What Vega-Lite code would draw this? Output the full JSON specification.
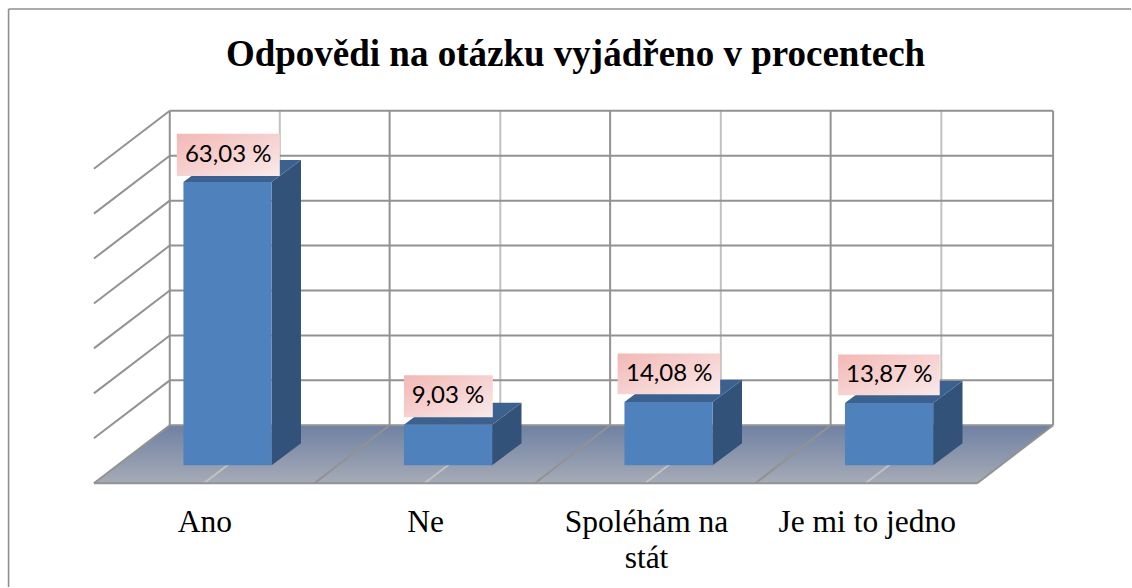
{
"$schema":"https://vega.github.io/schema/vega-lite/v6.json",
"width":1132,"height":588,"padding":0,
"autosize":{"type":"fit","contains":"padding"},
"background":"white",
"config":{"view":{"stroke":null}},
"datasets":{
"frame":[{"x":-0.387,"x2":4.7032,"y":101.56,"y2":101.56},{"x":-0.387,"x2":-0.387,"y":101.56,"y2":-27.11}],
"floor":[{"u":0,"top":-4,"bottom":-4},{"u":0.344,"top":8.89,"bottom":-4},{"u":4.006,"top":8.89,"bottom":-4},{"u":4.35,"top":8.89,"bottom":8.89}],
"wall":[
{"x":0.344,"x2":4.35,"y":78.89,"y2":78.89},{"x":0.344,"x2":4.35,"y":68.89,"y2":68.89},{"x":0.344,"x2":4.35,"y":58.89,"y2":58.89},{"x":0.344,"x2":4.35,"y":48.89,"y2":48.89},{"x":0.344,"x2":4.35,"y":38.89,"y2":38.89},{"x":0.344,"x2":4.35,"y":28.89,"y2":28.89},{"x":0.344,"x2":4.35,"y":18.89,"y2":18.89},{"x":0.344,"x2":4.35,"y":8.89,"y2":8.89},
{"x":0.344,"x2":0,"y":78.89,"y2":66},{"x":0.344,"x2":0,"y":68.89,"y2":56},{"x":0.344,"x2":0,"y":58.89,"y2":46},{"x":0.344,"x2":0,"y":48.89,"y2":36},{"x":0.344,"x2":0,"y":38.89,"y2":26},{"x":0.344,"x2":0,"y":28.89,"y2":16},{"x":0.344,"x2":0,"y":18.89,"y2":6},{"x":0.344,"x2":0,"y":8.89,"y2":-4},
{"x":0.344,"x2":0.344,"y":78.89,"y2":8.89},{"x":1.341,"x2":1.341,"y":78.89,"y2":8.89},{"x":2.341,"x2":2.341,"y":78.89,"y2":8.89},{"x":3.341,"x2":3.341,"y":78.89,"y2":8.89},{"x":4.35,"x2":4.35,"y":78.89,"y2":8.89},
{"x":0,"x2":4.006,"y":-4,"y2":-4},{"x":4.35,"x2":4.006,"y":8.89,"y2":-4},
{"x":1.341,"x2":1,"y":8.89,"y2":-4},{"x":2.341,"x2":2,"y":8.89,"y2":-4},{"x":3.341,"x2":3,"y":8.89,"y2":-4}
],
"minor":[
{"x":0.843,"x2":0.843,"y":78.89,"y2":8.89},{"x":1.843,"x2":1.843,"y":78.89,"y2":8.89},{"x":2.843,"x2":2.843,"y":78.89,"y2":8.89},{"x":3.843,"x2":3.843,"y":78.89,"y2":8.89},
{"x":0.843,"x2":0.499,"y":8.89,"y2":-4},{"x":1.843,"x2":1.499,"y":8.89,"y2":-4},{"x":2.843,"x2":2.499,"y":8.89,"y2":-4},{"x":3.843,"x2":3.499,"y":8.89,"y2":-4}
],
"bars":[
{"category":"Ano","value":63.03,"left":0.406,"right":0.806,"base":0},
{"category":"Ne","value":9.03,"left":1.406,"right":1.806,"base":0},
{"category":"Spoléhám na stát","value":14.08,"left":2.406,"right":2.806,"base":0},
{"category":"Je mi to jedno","value":13.87,"left":3.406,"right":3.806,"base":0}
],
"side":[
{"category":"Ano","u":0.806,"top":63.03,"bottom":0},{"category":"Ano","u":0.939,"top":67.92,"bottom":4.89},
{"category":"Ne","u":1.806,"top":9.03,"bottom":0},{"category":"Ne","u":1.939,"top":13.92,"bottom":4.89},
{"category":"Spoléhám na stát","u":2.806,"top":14.08,"bottom":0},{"category":"Spoléhám na stát","u":2.939,"top":18.97,"bottom":4.89},
{"category":"Je mi to jedno","u":3.806,"top":13.87,"bottom":0},{"category":"Je mi to jedno","u":3.939,"top":18.76,"bottom":4.89}
],
"topface":[
{"category":"Ano","u":0.406,"top":63.03,"bottom":63.03},{"category":"Ano","u":0.539,"top":67.92,"bottom":63.03},{"category":"Ano","u":0.806,"top":67.92,"bottom":63.03},{"category":"Ano","u":0.939,"top":67.92,"bottom":67.92},
{"category":"Ne","u":1.406,"top":9.03,"bottom":9.03},{"category":"Ne","u":1.539,"top":13.92,"bottom":9.03},{"category":"Ne","u":1.806,"top":13.92,"bottom":9.03},{"category":"Ne","u":1.939,"top":13.92,"bottom":13.92},
{"category":"Spoléhám na stát","u":2.406,"top":14.08,"bottom":14.08},{"category":"Spoléhám na stát","u":2.539,"top":18.97,"bottom":14.08},{"category":"Spoléhám na stát","u":2.806,"top":18.97,"bottom":14.08},{"category":"Spoléhám na stát","u":2.939,"top":18.97,"bottom":18.97},
{"category":"Je mi to jedno","u":3.406,"top":13.87,"bottom":13.87},{"category":"Je mi to jedno","u":3.539,"top":18.76,"bottom":13.87},{"category":"Je mi to jedno","u":3.806,"top":18.76,"bottom":13.87},{"category":"Je mi to jedno","u":3.939,"top":18.76,"bottom":18.76}
],
"labels":[
{"label":"63,03 %","u":0.609,"x":0.376,"x2":0.843,"y":73.8,"y2":64.4,"mid":69.1},
{"label":"9,03 %","u":1.606,"x":1.406,"x2":1.809,"y":20,"y2":10.67,"mid":15.3},
{"label":"14,08 %","u":2.609,"x":2.375,"x2":2.84,"y":24.89,"y2":15.78,"mid":20.3},
{"label":"13,87 %","u":3.607,"x":3.375,"x2":3.836,"y":24.67,"y2":15.56,"mid":20.1}
],
"cats":[
{"name":"Ano","u":0.503,"v":-14.9},{"name":"Ne","u":1.504,"v":-14.9},{"name":"Spoléhám na\nstát","u":2.506,"v":-14.9},{"name":"Je mi to jedno","u":3.507,"v":-14.9}
],
"heading":[{"name":"Odpovědi na otázku vyjádřeno v procentech","u":2.184,"v":88.9}]
},
"layer":[
{"data":{"name":"floor"},"mark":{"type":"area","fill":{"gradient":"linear","x1":0,"y1":0,"x2":0,"y2":1,"stops":[{"offset":0,"color":"#6f81a3"},{"offset":1,"color":"#a6abb6"}]}},
 "encoding":{"x":{"field":"u","type":"quantitative","axis":null,"scale":{"domain":[-0.4259,4.7032],"nice":false,"zero":false}},"y":{"field":"top","type":"quantitative","axis":null,"scale":{"domain":[-27.111,103.556],"nice":false,"zero":false}},"y2":{"field":"bottom"}}},
{"data":{"name":"frame"},"mark":{"type":"rule","color":"#8f8f8f","strokeWidth":1.6},
 "encoding":{"x":{"field":"x","type":"quantitative"},"x2":{"field":"x2"},"y":{"field":"y","type":"quantitative"},"y2":{"field":"y2"}}},
{"data":{"name":"minor"},"mark":{"type":"rule","color":"#c2c2c0","strokeWidth":2},
 "encoding":{"x":{"field":"x","type":"quantitative"},"x2":{"field":"x2"},"y":{"field":"y","type":"quantitative"},"y2":{"field":"y2"}}},
{"data":{"name":"wall"},"mark":{"type":"rule","color":"#929292","strokeWidth":2},
 "encoding":{"x":{"field":"x","type":"quantitative"},"x2":{"field":"x2"},"y":{"field":"y","type":"quantitative"},"y2":{"field":"y2"}}},
{"data":{"name":"side"},"mark":{"type":"area","color":"#325279"},
 "encoding":{"detail":{"field":"category"},"x":{"field":"u","type":"quantitative"},"y":{"field":"top","type":"quantitative"},"y2":{"field":"bottom"}}},
{"data":{"name":"topface"},"mark":{"type":"area","color":"#3c618f"},
 "encoding":{"detail":{"field":"category"},"x":{"field":"u","type":"quantitative"},"y":{"field":"top","type":"quantitative"},"y2":{"field":"bottom"}}},
{"data":{"name":"bars"},"mark":{"type":"bar","color":"#4f81bd"},
 "encoding":{"x":{"field":"left","type":"quantitative"},"x2":{"field":"right"},"y":{"field":"value","type":"quantitative"},"y2":{"field":"base"}}},
{"data":{"name":"labels"},"mark":{"type":"rect","fill":{"gradient":"linear","x1":0,"y1":0,"x2":1,"y2":1,"stops":[{"offset":0,"color":"#f2b8b5"},{"offset":1,"color":"#faeaea"}]}},
 "encoding":{"x":{"field":"x","type":"quantitative"},"x2":{"field":"x2"},"y":{"field":"y","type":"quantitative"},"y2":{"field":"y2"}}},
{"data":{"name":"labels"},"mark":{"type":"text","font":"Lato","fontSize":24,"color":"#000000","align":"center","baseline":"middle"},
 "encoding":{"x":{"field":"u","type":"quantitative"},"y":{"field":"mid","type":"quantitative"},"text":{"field":"label"}}},
{"data":{"name":"cats"},"mark":{"type":"text","font":"Liberation Serif","fontSize":31.5,"color":"#000000","align":"center","baseline":"alphabetic","lineBreak":"\n","lineHeight":36},
 "encoding":{"x":{"field":"u","type":"quantitative"},"y":{"field":"v","type":"quantitative"},"text":{"field":"name"}}},
{"data":{"name":"heading"},"mark":{"type":"text","font":"Liberation Serif","fontWeight":"bold","fontSize":37,"color":"#000000","align":"center","baseline":"alphabetic"},
 "encoding":{"x":{"field":"u","type":"quantitative"},"y":{"field":"v","type":"quantitative"},"text":{"field":"name"}}}
]
}
